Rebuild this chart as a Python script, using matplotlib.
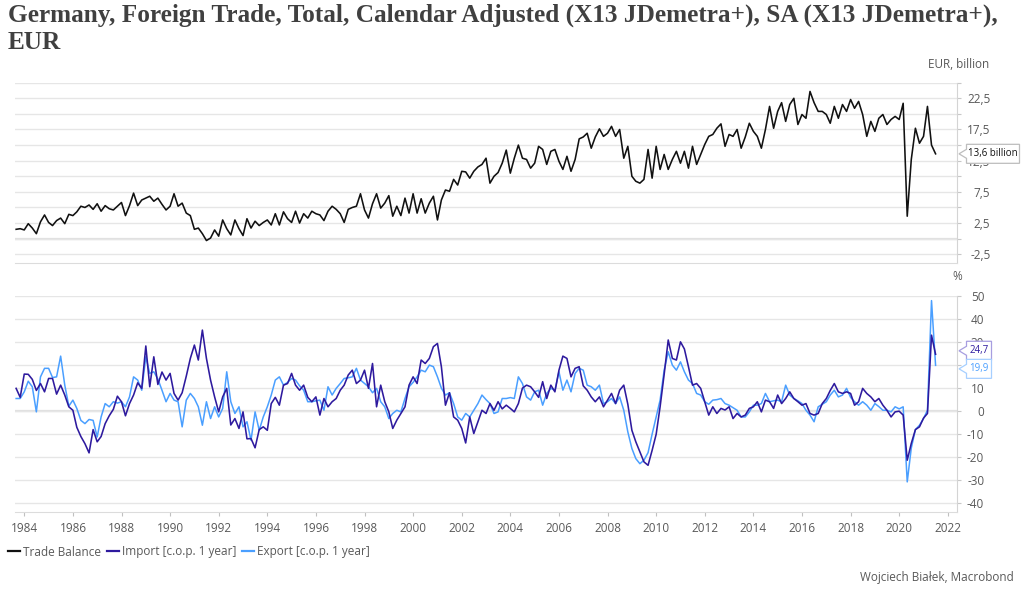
import matplotlib
matplotlib.use("Agg")
import matplotlib.pyplot as plt
import matplotlib.dates as mdates
import matplotlib.transforms as mtransforms
from matplotlib.patches import Polygon
from matplotlib.lines import Line2D
from matplotlib.ticker import MultipleLocator, FuncFormatter
import pandas as pd

plt.rcParams["font.family"] = ["Open Sans", "DejaVu Sans"]

# bi-monthly observations, Aug 1983 .. Jun 2021 (month end)
dates = pd.date_range("1983-08-01", periods=228, freq="2MS") + pd.offsets.MonthEnd(0)

# Trade balance, EUR billion
trade_balance = [
    1.5, 1.6, 1.4,
    2.4, 1.7, 0.8, 2.7, 3.8, 2.6,
    2.1, 2.9, 3.3, 2.4, 3.9, 3.7,
    4.3, 5.2, 5.0, 5.4, 4.7, 5.6,
    4.4, 5.3, 4.8, 4.6, 5.2, 5.8,
    3.7, 5.3, 7.3, 5.3, 6.2, 6.5,
    6.8, 6.0, 6.5, 5.5, 4.6, 5.2,
    7.2, 5.2, 5.7, 4.1, 3.7, 1.5,
    1.7, 0.8, -0.3, 0.1, 1.4, 0.4,
    3.0, 1.6, 0.6, 3.0, 1.6, 0.5,
    3.2, 1.7, 2.8, 2.1, 2.6, 3.0,
    2.2, 4.0, 2.2, 4.3, 3.2, 2.6,
    4.4, 2.5, 4.0, 3.3, 4.4, 4.0,
    3.8, 2.9, 4.4, 5.2, 4.7, 4.0,
    2.6, 4.7, 5.0, 5.2, 7.2, 4.6,
    3.3, 5.6, 7.2, 4.9, 5.7, 6.9,
    3.6, 5.2, 3.7, 6.5, 4.1, 7.2,
    4.1, 6.4, 4.1, 5.7, 6.8, 3.0,
    6.2, 7.8, 7.6, 9.5, 8.6, 10.8,
    10.7, 9.7, 10.8, 11.5, 11.9, 12.9,
    8.9, 10.0, 10.6, 12.1, 14.2, 10.5,
    12.9, 15.0, 12.9, 12.7, 11.3, 12.1,
    14.8, 14.3, 11.9, 14.0, 14.3, 12.4,
    11.1, 13.2, 10.8, 12.7, 16.0, 16.3,
    16.9, 14.5, 16.3, 17.6, 16.4, 16.9,
    18.0, 16.4, 17.5, 12.9, 14.8, 10.0,
    9.2, 8.9, 9.5, 14.3, 9.7, 14.8,
    11.1, 13.5, 11.1, 12.7, 14.0, 12.1,
    14.0, 11.3, 14.8, 11.9, 13.5, 15.1,
    16.4, 16.7, 17.7, 18.4, 14.8, 16.7,
    16.4, 17.5, 14.5, 16.3, 18.5, 17.2,
    16.4, 14.5, 17.5, 21.2, 17.7, 20.4,
    21.8, 18.8, 21.5, 22.5, 18.3, 19.9,
    19.3, 23.6, 21.8, 20.4, 20.4, 19.9,
    18.5, 21.2, 19.3, 21.5, 20.4, 22.3,
    20.9, 22.0, 19.9, 16.4, 18.8, 17.2,
    19.3, 19.9, 18.3, 19.1, 19.6, 19.1,
    21.7, 3.6, 12.7, 17.7, 15.3, 16.4,
    21.2, 15.0, 13.6,
]

# Import, % change over 1 year
imports = [
    9.9, 6.0, 16.1,
    16.0, 13.8, 9.0, 12.0, 8.4, 14.2,
    14.2, 7.4, 11.3, 7.0, 1.9, 0.4,
    -7.0, -11.0, -14.1, -18.1, -8.0, -13.3,
    -11.0, -5.4, -2.0, 0.8, 6.5, 4.1,
    -2.0, 3.3, 7.0, 12.3, 9.9, 28.3,
    10.6, 23.6, 11.6, 17.0, 13.5, 16.4,
    7.7, 4.8, 8.0, 15.2, 22.9, 28.7,
    22.2, 35.2, 22.9, 13.5, 6.2, -0.3,
    6.2, 9.9, -6.0, -3.2, -7.5, -0.3,
    -12.0, -11.9, -15.9, -8.0, -6.8, -8.3,
    3.3, 6.0, 2.6, 11.3, 12.0, 16.4,
    11.3, 9.1, 11.3, 6.0, 4.1, 6.2,
    -1.7, 5.5, 1.9, 4.1, 5.5, 9.1,
    11.3, 15.7, 17.8, 12.0, 13.5, 17.8,
    9.9, 20.7, 1.9, 11.3, 4.1, -0.3,
    -7.5, -3.9, -1.0, 1.9, 11.3, 14.9,
    12.0, 22.2, 20.7, 22.9, 28.0, 29.4,
    19.3, 2.6, 8.0, -2.5, -3.9, -7.5,
    -13.8, -2.5, -9.7, -4.6, 0.4, -1.0,
    3.3, 0.4, 4.1, 1.0, 2.6, 1.2,
    -0.3, 3.3, 10.0, 11.3, 10.6, 8.4,
    6.0, 12.8, 5.5, 11.3, 8.4, 17.8,
    23.9, 22.9, 14.9, 18.6, 19.3, 11.0,
    9.1, 6.2, 4.1, 6.2, 1.9, 4.8,
    7.7, 3.3, 9.1, 11.3, 3.0, -8.3,
    -13.3, -17.7, -22.0, -23.5, -17.0, -10.0,
    1.9, 16.0, 30.9, 22.9, 22.2, 30.1,
    27.0, 19.3, 11.3, 12.0, 9.9, 4.1,
    -1.7, 1.9, -1.0, 1.2, 0.5, 1.9,
    -3.2, -1.0, -2.5, -1.7, 1.2, 1.9,
    4.1, -0.3, 4.8, 4.1, 1.2, 7.0,
    3.3, 5.5, 8.4, 5.5, 4.1, 2.6,
    3.3, -1.0, -1.7, -1.0, 3.3, 5.5,
    9.0, 12.0, 8.4, 7.7, 8.4, 7.7,
    2.6, 4.1, 9.9, 7.7, 6.2, 4.1,
    5.5, 2.6, 0.4, -2.5, -0.3, 0.0,
    -1.7, -21.3, -14.0, -8.0, -6.8, -3.0,
    -1.0, 33.0, 24.7,
]

# Export, % change over 1 year
exports = [
    5.5, 5.5, 8.4,
    13.0, 10.6, -0.3, 14.9, 18.6, 18.6,
    14.6, 14.9, 23.9, 11.3, 2.2, 4.8,
    1.2, -4.0, -5.4, -3.6, -4.0, -11.2,
    -2.5, 3.3, 1.9, 4.1, 3.5, 4.1,
    1.9, 6.2, 14.9, 13.5, 9.1, 23.6,
    16.4, 17.1, 14.0, 9.1, 4.1, 7.7,
    4.8, 4.1, -6.8, 4.8, 7.7, 5.5,
    1.9, -6.1, 4.1, -3.2, 1.9, -2.5,
    1.2, 17.1, 4.1, -1.0, 1.9, -6.8,
    -4.6, -12.6, -0.3, -8.3, -2.5, 1.9,
    7.0, 13.5, 14.9, 11.3, 12.5, 14.2,
    13.5, 11.0, 9.1, 4.1, 4.1, 4.5,
    4.8, 0.4, 10.6, 7.0, 9.9, 12.0,
    14.2, 14.5, 14.9, 18.6, 13.5, 12.0,
    10.6, 8.0, 9.9, 4.1, 1.9, -3.2,
    -1.0, 0.4, -0.3, 5.5, 10.6, 12.5,
    14.9, 17.8, 17.1, 20.0, 19.3, 14.9,
    10.0, 7.0, 8.0, 3.3, -2.5, -3.9,
    -1.0, -2.5, 0.4, 3.3, 7.0, 5.0,
    3.3, -1.0, -0.3, 5.5, 5.5, 5.9,
    5.5, 14.9, 12.0, 6.2, 4.8, 8.4,
    9.1, 2.6, 7.7, 9.9, 9.1, 17.1,
    9.1, 13.5, 8.4, 16.4, 18.6, 17.8,
    11.3, 10.6, 9.1, 11.3, 3.3, 4.1,
    5.5, 3.3, 6.2, 0.4, -9.0, -16.2,
    -20.6, -22.8, -21.3, -18.0, -10.0, -2.5,
    4.8, 17.8, 25.8, 20.0, 17.8, 21.4,
    17.1, 13.5, 12.0, 7.7, 7.0, 4.1,
    3.0, 4.8, 5.0, 5.5, 3.3, 2.6,
    1.5, 0.4, -2.5, -2.5, -0.3, 2.6,
    2.6, 3.3, 7.7, 4.1, 4.5, 4.8,
    4.1, 11.3, 7.0, 5.5, 4.5, 3.3,
    0.4, -1.7, -4.6, 1.9, 3.0, 4.1,
    7.0, 9.1, 6.2, 7.0, 9.9, 6.0,
    4.1, 2.6, 4.1, 2.6, 0.4, 3.3,
    2.0, 0.4, 0.4, -0.3, 1.9, 1.0,
    1.9, -30.7, -16.0, -8.0, -6.1, -3.2,
    0.4, 48.0, 19.9,
]

TITLE = ("Germany, Foreign Trade, Total, Calendar Adjusted (X13 JDemetra+), "
         "SA (X13 JDemetra+),\nEUR")
TEXT_GREY = "#595959"
GRID = "#e6e6e6"
C_TB = "#111111"
C_IMP = "#2e1a9e"
C_EXP = "#4a9fff"

W, H = 1024, 594
fig = plt.figure(figsize=(W / 100, H / 100), dpi=100)

ax_top = fig.add_axes([15 / W, 1 - 263 / H, 942 / W, 180.3 / H])
ax_bot = fig.add_axes([15 / W, 1 - 512.3 / H, 942 / W, 216.3 / H])

x_left = pd.Timestamp("1983-08-14")
x_right = pd.Timestamp("2022-05-18")


def style_axis(ax, step, fmt, pad):
    ax.set_xlim(x_left, x_right)
    ax.yaxis.set_major_locator(MultipleLocator(step))
    ax.yaxis.set_major_formatter(FuncFormatter(fmt))
    ax.yaxis.tick_right()
    ax.tick_params(axis="y", direction="out", length=3, color="#c8c8c8",
                   labelcolor=TEXT_GREY, labelsize=8.5, pad=pad)
    for lab in ax.get_yticklabels():
        lab.set_horizontalalignment("right")
    ax.grid(axis="y", color=GRID, linewidth=1.0)
    ax.set_axisbelow(True)
    for side in ("top", "left"):
        ax.spines[side].set_visible(False)
    ax.spines["right"].set_color("#d4d4d4")
    ax.spines["bottom"].set_color("#dcdcdc")
    ax.axhline(0, color="#e0e0e0", linewidth=1.6, zorder=0.5)


def fmt_top(v, pos):
    if abs((v - 2.5) % 5) < 1e-6:
        return f"{v:.1f}".replace(".", ",")
    return ""


def fmt_bot(v, pos):
    return f"{v:.0f}"


# top panel: trade balance
ax_top.plot(dates, trade_balance, color=C_TB, linewidth=1.15, zorder=3)
ax_top.set_ylim(-3.9, 25)
style_axis(ax_top, 2.5, fmt_top, 21)
ax_top.tick_params(axis="x", bottom=False, labelbottom=False)

# bottom panel: import / export growth
ax_bot.plot(dates, exports, color=C_EXP, linewidth=1.1, zorder=3)
ax_bot.plot(dates, imports, color=C_IMP, linewidth=1.15, zorder=4)
ax_bot.set_ylim(-43.9, 50)
style_axis(ax_bot, 10, fmt_bot, 16.6)
ax_bot.xaxis.set_major_locator(mdates.YearLocator(2))
ax_bot.xaxis.set_major_formatter(mdates.DateFormatter("%Y"))
ax_bot.tick_params(axis="x", direction="out", length=3, color="#c0c0c0",
                   labelcolor=TEXT_GREY, labelsize=8.5, pad=4)
for lab in ax_bot.get_yticklabels():
    lab.set_horizontalalignment("right")

# value callouts on the right axis
ident = mtransforms.IdentityTransform()


def callout(ax, value, shift_px, text, text_color, edge_color, width):
    tip_x = ax.transAxes.transform((1, 0))[0] + 2
    tip_y = ax.transData.transform((0, value))[1] + shift_px
    left = tip_x + 7.5
    right = left + width
    half = 9.5
    verts = [(tip_x, tip_y), (left, tip_y + 4.5), (left, tip_y + half),
             (right, tip_y + half), (right, tip_y - half),
             (left, tip_y - half), (left, tip_y - 4.5)]
    fig.add_artist(Polygon(verts, closed=True, transform=ident, facecolor="white",
                           edgecolor=edge_color, linewidth=0.9, zorder=10))
    fig.text((left + right) / 2, tip_y, text, transform=ident, ha="center",
             va="center", fontsize=7, color=text_color, zorder=11)


callout(ax_top, trade_balance[-1], 0, "13,6 billion", "#111111", "#bdbdbd", 53)
callout(ax_bot, imports[-1], 3.5, "24,7", C_IMP, "#a79ee0", 25)
callout(ax_bot, exports[-1], -3.5, "19,9", C_EXP, "#a6cfff", 25)

# texts
fig.text(8 / W, 1 - 4 / H, TITLE, ha="left", va="top", fontsize=18.2,
         fontweight="bold", family=["Liberation Serif", "DejaVu Serif"],
         color="#404040")
fig.text(989 / W, 1 - 64 / H, "EUR, billion", ha="right", va="center",
         fontsize=8.5, color=TEXT_GREY)
fig.text(957.5 / W, 1 - 277 / H, "%", ha="center", va="center",
         fontsize=8.5, color=TEXT_GREY)
fig.text(1014 / W, 1 - 577 / H, "Wojciech Białek, Macrobond", ha="right",
         va="center", fontsize=8.5, color=TEXT_GREY)

handles = [
    Line2D([0], [0], color=C_TB, linewidth=1.6, label="Trade Balance"),
    Line2D([0], [0], color=C_IMP, linewidth=1.6, label="Import [c.o.p. 1 year]"),
    Line2D([0], [0], color=C_EXP, linewidth=1.6, label="Export [c.o.p. 1 year]"),
]
fig.legend(handles=handles, loc="center left", bbox_to_anchor=(0 / W, 1 - 552 / H),
           ncol=3, frameon=False, fontsize=8.5, handlelength=1.0,
           handletextpad=0.25, columnspacing=0.5, labelcolor=TEXT_GREY,
           borderpad=0.2)

fig.savefig("out.png", dpi=100)
